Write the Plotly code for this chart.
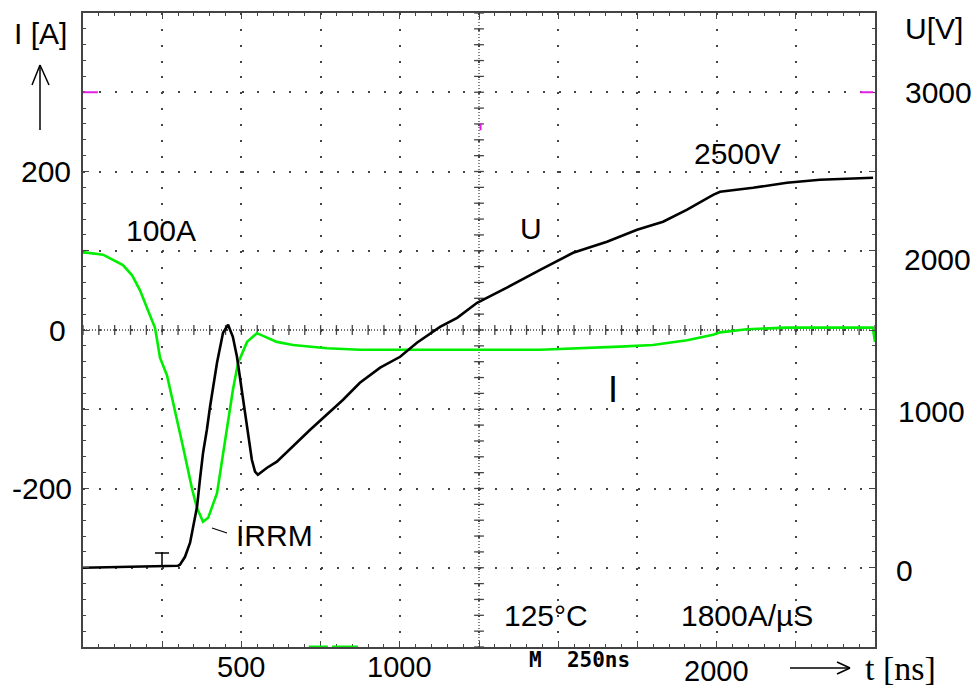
import numpy as np
import plotly.graph_objects as go

# ---------------- data ----------------
# current I [A] (green trace) vs time t [ns]
t_current = [0, 6, 63, 95, 126, 155, 180, 205, 227, 234, 243, 265, 290, 316, 344,
             360, 379, 395, 423, 454, 473, 489, 518, 549, 612, 663, 770, 874, 1158,
             1443, 1695, 1799, 1907, 1989, 2011, 2096, 2222, 2493, 2500]
current_A = [97, 98, 95, 88, 82, 69, 50, 25, 3, -13, -35, -57, -100, -148, -200,
             -225, -242, -237, -206, -126, -76, -42, -15, -4, -15, -19, -23, -25, -25,
             -25, -21, -19, -13, -6, -3, 1, 3, 3, -15]

# voltage U [V] (black trace) vs time t [ns]
t_voltage = [0, 148, 300, 306, 322, 338, 347, 360, 369, 379, 391, 401, 423, 442, 458,
             473, 486, 496, 518, 533, 543, 552, 581, 612, 717, 821, 874, 938, 1001,
             1054, 1127, 1181, 1244, 1338, 1443, 1547, 1654, 1749, 1831, 1907, 1989,
             2011, 2115, 2222, 2326, 2494]
voltage_V = [0, 6, 13, 19, 69, 158, 259, 385, 555, 726, 871, 1016, 1293, 1483, 1533,
             1457, 1331, 1186, 871, 681, 606, 587, 631, 669, 871, 1060, 1167, 1262, 1331,
             1420, 1520, 1577, 1672, 1767, 1880, 1987, 2057, 2132, 2183, 2259, 2353,
             2372, 2397, 2429, 2448, 2461]

left_tick_labels = ["200", "0", "-200"]
left_tick_values = [200, 0, -200]
right_tick_labels = ["3000", "2000", "1000", "0"]
right_tick_values = [3000, 2000, 1000, 0]
time_tick_labels = ["500", "1000", "2000"]
time_tick_values = [500, 1000, 2000]

# ---------------- layout geometry ----------------
W, H = 977, 689
L, R, T, B = 83, 875, 13, 647


def px(x):
    return (x - L) / (R - L)


def py(y):
    return (B - y) / (B - T)


FONT = "Liberation Sans, Arial, sans-serif"
GRID = "#444444"

fig = go.Figure()

# centre-line cross ticks (oscilloscope graticule)
fig.add_trace(go.Scatter(
    x=[1250] * len(np.arange(-400, 401, 20)), y=np.arange(-400, 401, 20),
    mode="markers", hoverinfo="skip", showlegend=False,
    marker=dict(symbol="line-ew", size=7, line=dict(color=GRID, width=1.3))))
fig.add_trace(go.Scatter(
    x=np.arange(0, 2501, 50), y=[0] * len(np.arange(0, 2501, 50)),
    mode="markers", hoverinfo="skip", showlegend=False,
    marker=dict(symbol="line-ns", size=7, line=dict(color=GRID, width=1.3))))

fig.add_trace(go.Scatter(x=t_current, y=current_A, mode="lines", name="I",
                         line=dict(color="#00EE00", width=2.6), yaxis="y",
                         showlegend=False))
fig.add_trace(go.Scatter(x=t_voltage, y=voltage_V, mode="lines", name="U",
                         line=dict(color="black", width=2.6), yaxis="y2",
                         showlegend=False))

axis_common = dict(
    showgrid=True, gridcolor=GRID, gridwidth=1.5, griddash="2px,13.85px",
    showline=True, linecolor=GRID, linewidth=2, mirror="ticks",
    ticks="inside", ticklen=6, tickcolor=GRID, tickwidth=1,
    showticklabels=False, zeroline=False, fixedrange=True,
)

fig.update_layout(
    width=W, height=H, autosize=False,
    margin=dict(l=L, r=W - R, t=T, b=H - B, pad=0),
    paper_bgcolor="white", plot_bgcolor="white",
    font=dict(family=FONT, size=30, color="black"),
    xaxis=dict(range=[0, 2500], tick0=0, dtick=250,
               minor=dict(ticks="inside", dtick=50, ticklen=3, tickcolor=GRID,
                          tickwidth=1, showgrid=False),
               **axis_common),
    yaxis=dict(range=[-400, 400], tick0=0, dtick=100,
               minor=dict(ticks="inside", dtick=20, ticklen=3, tickcolor=GRID,
                          tickwidth=1, showgrid=False),
               **axis_common),
    yaxis2=dict(range=[-500, 3500], overlaying="y", side="right", showgrid=False,
                showticklabels=False, ticks="", showline=False, zeroline=False,
                fixedrange=True),
)

shapes = []
# dense centre lines
shapes.append(dict(type="line", xref="x", yref="y", x0=0, x1=2500, y0=0, y1=0,
                   line=dict(color=GRID, width=1.3, dash="1px,2px"), layer="below"))
shapes.append(dict(type="line", xref="x", yref="y", x0=1250, x1=1250, y0=-400, y1=400,
                   line=dict(color=GRID, width=1.3, dash="1px,2px"), layer="below"))
# magenta reference markers
shapes.append(dict(type="line", xref="x", yref="y", x0=0, x1=47, y0=300, y1=300,
                   line=dict(color="#E020E0", width=2)))
shapes.append(dict(type="line", xref="x", yref="y", x0=2453, x1=2494, y0=300, y1=300,
                   line=dict(color="#E020E0", width=2)))
shapes.append(dict(type="line", xref="x", yref="y", x0=1255, x1=1255, y0=252, y1=261,
                   line=dict(color="#E020E0", width=2)))
# green off-screen markers on the bottom border
shapes.append(dict(type="line", xref="x", yref="y", x0=713, x1=773, y0=-400, y1=-400,
                   line=dict(color="#00EE00", width=3)))
shapes.append(dict(type="line", xref="x", yref="y", x0=786, x1=868, y0=-400, y1=-400,
                   line=dict(color="#00EE00", width=3)))


def seg(x0, y0, x1, y1, w=1.5, color="black"):
    shapes.append(dict(type="line", xref="paper", yref="paper",
                       x0=px(x0), y0=py(y0), x1=px(x1), y1=py(y1),
                       line=dict(color=color, width=w)))


# up arrow under "I [A]"
seg(40, 130, 40, 65)
seg(32, 85, 40, 65)
seg(49, 85, 40, 65)
# time arrow
seg(790, 668, 850, 668)
seg(837, 662, 850, 668)
seg(837, 674, 850, 668)
# IRRM leader
seg(212, 528, 227, 533, w=1.3)
# trigger marker "T"
seg(155, 553, 169, 553, w=1.5)
seg(162, 553, 162, 567, w=1.5)

fig.update_layout(shapes=shapes)

ann = []


def text(s, x, y, size=30, family=FONT, xref="paper", yref="paper",
         yshift=0, xanchor="center"):
    ann.append(dict(text=s, x=x, y=y, xref=xref, yref=yref, showarrow=False,
                    xanchor=xanchor, yanchor="middle", yshift=yshift,
                    font=dict(size=size, family=family, color="black")))


# left current scale
left_x = {"200": 46, "0": 57, "-200": 42}
for lab, v in zip(left_tick_labels, left_tick_values):
    text(lab, px(left_x[lab]), v, yref="y")
# right voltage scale
right_x = {"3000": 938, "2000": 937, "1000": 931, "0": 904}
right_dy = {"3000": 0, "2000": -9, "1000": -2, "0": -3}
for lab, v in zip(right_tick_labels, right_tick_values):
    text(lab, px(right_x[lab]), v, yref="y2", yshift=right_dy[lab])
# time scale
time_y = {"500": 667, "1000": 667, "2000": 671}
for lab, v in zip(time_tick_labels, time_tick_values):
    text(lab, v, py(time_y[lab]), xref="x", size=29)

text("I [A]", px(40), py(33))
text("U[V]", px(934), py(29))
text("100A", px(161), py(231))
text("U", px(531), py(228))
text("2500V", px(737), py(154))
text("I", px(613), py(389), size=36)
text("IRRM", px(274), py(535))
text("125°C", px(546), py(615))
text("1800A/µS", px(747), py(615))
text("<b>M  250ns</b>", px(579), py(660), size=21,
     family="DejaVu Sans Mono, Liberation Mono, monospace")
text("t [ns]", px(900), py(668), size=34,
     family="Liberation Serif, Times New Roman, serif")

fig.update_layout(annotations=ann)

fig.write_html("out.html", config={"displayModeBar": False},
               post_script="document.body.style.margin='0';")
